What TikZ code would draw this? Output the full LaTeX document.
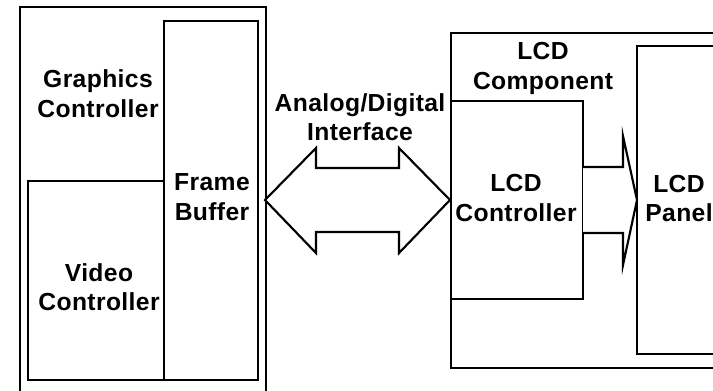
\documentclass[tikz,border=0pt]{standalone}
\usepackage{fontspec}
\setmainfont{Liberation Sans}
\newfontfamily\lblfont{Liberation Sans}[LetterSpace=1.5]
\usetikzlibrary{calc}
\begin{document}
\begin{tikzpicture}[x=0.75pt,y=-0.75pt,
  box/.style={line width=2.2pt, line join=miter},
  blockarrow/.style={line width=1.6pt, line join=miter, fill=white},
  lbl/.style={font=\lblfont\bfseries\fontsize{18.5}{22}\selectfont, align=center, inner sep=0pt}]
\useasboundingbox (0,0) rectangle (713,390);
\begin{scope}
\clip (0,0) rectangle (713,390);

% ---- host side: graphics controller with frame buffer and video controller
\coordinate (hostTL) at (20,7);
\coordinate (hostTR) at (266,7);
\coordinate (fbTL) at (164,21);
\coordinate (fbBR) at (258,380);
\coordinate (vcTL) at (28,181);
\draw[box] (hostTL |- 0,396) -- (hostTL) -- (hostTR) -- (hostTR |- 0,396);
\draw[box] (fbTL) rectangle (fbBR);
\draw[box] (vcTL) rectangle (fbTL |- fbBR);

\node[lbl] (gc) at (98,93.6) {Graphics\\Controller};
\node[lbl] (fb) at (212,197.2) {Frame\\Buffer};
\node[lbl] (vc) at (99,287.1) {Video\\Controller};

% ---- LCD side: component with controller and panel
\coordinate (lcdTL) at (451,33);
\coordinate (lcdBL) at (451,368);
\coordinate (ctlTR) at (583,101);
\coordinate (ctlBL) at (451,299);
\coordinate (panTL) at (637,46);
\coordinate (panBL) at (637,354);
\draw[box] (716,33) -- (lcdTL) -- (lcdBL) -- (716,368);
\draw[box] (ctlBL) rectangle (ctlTR);
\draw[box] (716,46) -- (panTL) -- (panBL) -- (716,354);

\node[lbl] (comp) at (543,68.5) {LCD\\Component};
\node[lbl] (ctl) at (516,198.1) {LCD\\Controller};
\node[lbl] (pan) at (679,198.6) {LCD\\Panel};

% ---- analog/digital interface: double block arrow
\coordinate (ifL) at (265,200);
\coordinate (ifR) at (450,200);
\draw[blockarrow] (ifL) -- ($(ifL)+(51,-52)$) -- ($(ifL)+(51,-32)$)
  -- ($(ifR)+(-51,-32)$) -- ($(ifR)+(-51,-52)$) -- (ifR)
  -- ($(ifR)+(-51,53)$) -- ($(ifR)+(-51,32)$) -- ($(ifL)+(51,32)$)
  -- ($(ifL)+(51,53)$) -- cycle;
\node[lbl] (ad) at (360,117.1) {Analog/Digital\\Interface};

% ---- controller to panel: block arrow
\coordinate (cpS) at (583,200);
\coordinate (cpT) at (637,200);
\draw[blockarrow] ($(cpS)+(0,-33)$) -- ($(cpT)+(-14,-33)$) -- ($(cpT)+(-14,-64)$)
  -- (cpT) -- ($(cpT)+(-14,65)$) -- ($(cpT)+(-14,33)$) -- ($(cpS)+(0,33)$);
\end{scope}
\end{tikzpicture}
\end{document}
